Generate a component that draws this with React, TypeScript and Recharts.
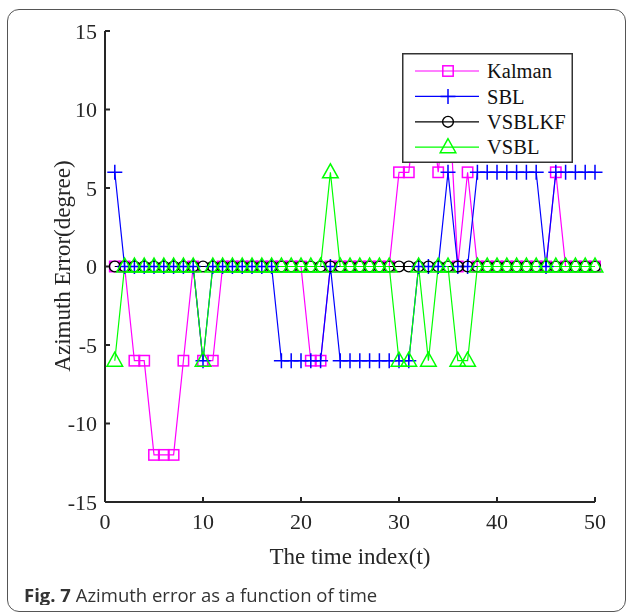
import { LineChart, Line, XAxis, YAxis, Legend } from "recharts";

// time index t = 1..50
const timeIndex = [
  1, 2, 3, 4, 5, 6, 7, 8, 9, 10, 11, 12, 13, 14, 15, 16, 17, 18, 19, 20, 21, 22, 23, 24, 25,
  26, 27, 28, 29, 30, 31, 32, 33, 34, 35, 36, 37, 38, 39, 40, 41, 42, 43, 44, 45, 46, 47, 48, 49, 50,
];

// azimuth error (degree) per method
const kalman = [
  0, 0, -6, -6, -12, -12, -12, -6, 0, -6,
  -6, 0, 0, 0, 0, 0, 0, 0, 0, 0,
  -6, -6, 0, 0, 0, 0, 0, 0, 0, 6,
  6, 12, 12, 6, 12, 0, 6, 0, 0, 0,
  0, 0, 0, 0, 0, 6, 0, 0, 0, 0,
];
const sbl = [
  6, 0, 0, 0, 0, 0, 0, 0, 0, -6,
  0, 0, 0, 0, 0, 0, 0, -6, -6, -6,
  -6, -6, 0, -6, -6, -6, -6, -6, -6, -6,
  -6, 0, 0, 0, 6, 0, 0, 6, 6, 6,
  6, 6, 6, 6, 0, 6, 6, 6, 6, 6,
];
const vsblkf = [
  0, 0, 0, 0, 0, 0, 0, 0, 0, 0,
  0, 0, 0, 0, 0, 0, 0, 0, 0, 0,
  0, 0, 0, 0, 0, 0, 0, 0, 0, 0,
  0, 0, 0, 0, 0, 0, 0, 0, 0, 0,
  0, 0, 0, 0, 0, 0, 0, 0, 0, 0,
];
const vsbl = [
  -6, 0, 0, 0, 0, 0, 0, 0, 0, -6,
  0, 0, 0, 0, 0, 0, 0, 0, 0, 0,
  0, 0, 6, 0, 0, 0, 0, 0, 0, -6,
  -6, 0, -6, 0, 0, -6, -6, 0, 0, 0,
  0, 0, 0, 0, 0, 0, 0, 0, 0, 0,
];

const xTicks = [0, 10, 20, 30, 40, 50];
const yTicks = [-15, -10, -5, 0, 5, 10, 15];

const data = timeIndex.map((t, i) => ({
  t,
  kalman: kalman[i],
  sbl: sbl[i],
  vsblkf: vsblkf[i],
  vsbl: vsbl[i],
}));

type Shape = "square" | "plus" | "circle" | "triangle";

const series: { key: string; name: string; color: string; shape: Shape }[] = [
  { key: "kalman", name: "Kalman", color: "#ff00ff", shape: "square" },
  { key: "sbl", name: "SBL", color: "#0000ff", shape: "plus" },
  { key: "vsblkf", name: "VSBLKF", color: "#000000", shape: "circle" },
  { key: "vsbl", name: "VSBL", color: "#00ff00", shape: "triangle" },
];

const marker = (shape: Shape, color: string, cx: number, cy: number, key?: string) => {
  if (shape === "square")
    return <rect key={key} x={cx - 5.2} y={cy - 5.2} width={10.4} height={10.4} fill="none" stroke={color} strokeWidth={1.5} />;
  if (shape === "plus")
    return (
      <path key={key} d={`M${cx - 7.5},${cy}H${cx + 7.5}M${cx},${cy - 7.5}V${cy + 7.5}`} stroke={color} strokeWidth={1.5} fill="none" />
    );
  if (shape === "circle")
    return <circle key={key} cx={cx} cy={cy} r={5.4} fill="none" stroke={color} strokeWidth={1.4} />;
  return (
    <path key={key} d={`M${cx},${cy - 8.5}L${cx - 7.8},${cy + 5.5}L${cx + 7.8},${cy + 5.5}Z`} fill="none" stroke={color} strokeWidth={1.5} />
  );
};

const serif = "Liberation Serif";
const axisColor = "#262626";

// legend drawn as one small svg box
const renderLegend = () => (
  <svg width={171} height={110} style={{ display: "block" }}>
    <rect x={0.75} y={0.75} width={169.5} height={108.5} fill="#fff" stroke="#333" strokeWidth={1.5} />
    {series.map((s, i) => {
      const y = 18 + i * 25.4;
      return (
        <g key={s.key}>
          <line x1={13} x2={77} y1={y} y2={y} stroke={s.color} strokeWidth={1.2} />
          {marker(s.shape, s.color, 46, y)}
          <text x={85} y={y} dy="0.35em" fontFamily={serif} fontSize={20.5} fill="#111">
            {s.name}
          </text>
        </g>
      );
    })}
  </svg>
);

export default function App() {
  return (
    <div style={{ position: "relative", width: 611, height: 597 }}>
      <div
        style={{
          position: "fixed",
          left: 7,
          top: 9,
          width: 619,
          height: 603,
          boxSizing: "border-box",
          border: "1px solid #555",
          borderRadius: 12,
          pointerEvents: "none",
        }}
      />
      <div style={{ position: "absolute", left: 0, top: 0 }}>
        <LineChart width={611} height={570} data={data} margin={{ top: 23, right: 24, bottom: 0, left: 0 }}>
          <XAxis
            dataKey="t"
            type="number"
            domain={[0, 50]}
            ticks={xTicks}
            height={76}
            tickSize={-5}
            tickMargin={16}
            axisLine={{ stroke: axisColor, strokeWidth: 2 }}
            tickLine={{ stroke: axisColor, strokeWidth: 2 }}
            tick={{ fontFamily: serif, fontSize: 22, fill: axisColor }}
            label={{
              value: "The time index(t)",
              position: "insideBottom",
              offset: 14,
              style: { fontFamily: serif, fontSize: 23, fill: axisColor },
            }}
          />
          <XAxis
            xAxisId="top"
            orientation="top"
            dataKey="t"
            type="number"
            domain={[0, 50]}
            ticks={xTicks}
            height={0}
            tickSize={-5}
            tick={false}
            axisLine={{ stroke: axisColor, strokeWidth: 2 }}
            tickLine={{ stroke: axisColor, strokeWidth: 2 }}
          />
          <YAxis
            type="number"
            domain={[-15, 15]}
            ticks={yTicks}
            width={97}
            tickSize={-5}
            tickMargin={13}
            axisLine={{ stroke: axisColor, strokeWidth: 2 }}
            tickLine={{ stroke: axisColor, strokeWidth: 2 }}
            tick={{ fontFamily: serif, fontSize: 22, fill: axisColor }}
            label={{
              content: () => (
                <text
                  x={54}
                  y={258}
                  transform="rotate(-90 54 258)"
                  textAnchor="middle"
                  dominantBaseline="central"
                  fontFamily={serif}
                  fontSize={23}
                  fill={axisColor}
                >
                  Azimuth Error(degree)
                </text>
              ),
            }}
          />
          <YAxis
            yAxisId="right"
            orientation="right"
            type="number"
            domain={[-15, 15]}
            ticks={yTicks}
            width={0}
            tickSize={-5}
            tick={false}
            axisLine={{ stroke: axisColor, strokeWidth: 2 }}
            tickLine={{ stroke: axisColor, strokeWidth: 2 }}
          />
          {series.map((s) => (
            <Line
              key={s.key}
              dataKey={s.key}
              name={s.name}
              type="linear"
              stroke={s.color}
              strokeWidth={1.2}
              isAnimationActive={false}
              activeDot={false}
              dot={(p: any) => marker(s.shape, s.color, p.cx, p.cy, `${s.key}-${p.index}`)}
            />
          ))}
          <Legend
            layout="vertical"
            align="center"
            verticalAlign="middle"
            content={renderLegend}
            wrapperStyle={{ left: 394, top: 45, width: 171, height: 110 }}
          />
        </LineChart>
      </div>
      <div
        style={{
          position: "absolute",
          left: 16,
          top: 576,
          lineHeight: "22px",
          fontFamily: "'Open Sans', 'Noto Sans', sans-serif",
          fontSize: 18.5,
          color: "#333",
          whiteSpace: "nowrap",
        }}
      >
        <b>Fig. 7</b> Azimuth error as a function of time
      </div>
    </div>
  );
}
